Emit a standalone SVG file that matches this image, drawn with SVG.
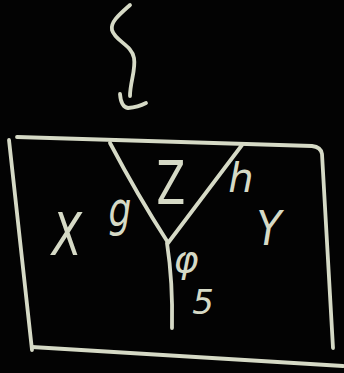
<svg xmlns="http://www.w3.org/2000/svg" width="344" height="373" viewBox="0 0 344 373">
<style>
.c{fill:none;stroke:#d6dac6;stroke-width:3.8;stroke-linecap:round;stroke-linejoin:round}
.t{fill:#d6dac6;font-family:"DejaVu Sans",sans-serif;text-anchor:middle}
</style>
<rect width="344" height="373" fill="#030303"/>
<g id="arrow">
<path class="c" d="M130,5 C120,14 110,22 112,30 C115,41 132,45 134,58 C136,70 130,82 130,96"/>
<path class="c" d="M120,94 Q121,107 128,108 Q138,107 146,103"/>
</g>
<g id="frame">
<path class="c" d="M17,137 L312,146 Q321,147 322,154 L333,348"/>
<path class="c" d="M9,140 L32,350"/>
<path class="c" d="M32,347 L343,366"/>
</g>
<g id="connectors">
<path class="c" d="M110,143 Q138,196 167,241"/>
<path class="c" d="M242,145 L168,243"/>
<path class="c" d="M167,243 Q173,282 172,328"/>
</g>
<g id="labels">
<text class="t" x="0" y="0" font-size="60" transform="translate(171,204) scale(0.7,1)">Z</text>
<text class="t" x="0" y="0" font-size="48" transform="translate(120,226) scale(0.75,1)" font-style="italic">g</text>
<text class="t" x="241" y="192" font-size="40" font-style="italic">h</text>
<text class="t" x="0" y="0" font-size="58" transform="translate(67,255) scale(0.75,1)" font-style="italic">X</text>
<text class="t" x="0" y="0" font-size="48" transform="translate(269,245) scale(0.85,1)" font-style="italic">Y</text>
<text class="t" x="186" y="272" font-size="38" font-style="italic">φ</text>
<text class="t" x="203" y="314" font-size="34" font-style="italic">5</text>
</g>
</svg>
